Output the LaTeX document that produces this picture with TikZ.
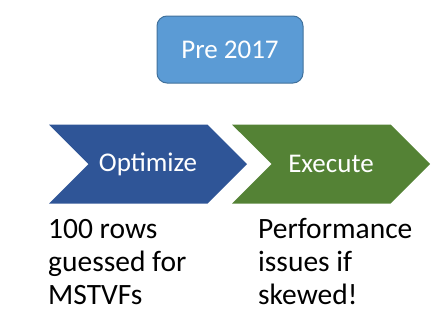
\documentclass[tikz,border=0pt]{standalone}
\usepackage{fontspec}
\setmainfont{Carlito}
\usetikzlibrary{shapes.symbols}

\definecolor{office_blue}{HTML}{5B9BD5}
\definecolor{office_edge}{HTML}{41719C}
\definecolor{dark_blue}{HTML}{2F5597}
\definecolor{dark_green}{HTML}{548235}

\begin{document}
\begin{tikzpicture}[
    x=1pt, y=-1pt,
    era/.style={rectangle, draw=office_edge, fill=office_blue, line width=1pt,
                minimum width=146pt, minimum height=67pt, rounded corners=10pt,
                text=white, font=\fontsize{27}{32}\selectfont},
    phase/.style={signal, signal from=west, signal to=east, signal pointer angle=90,
                  minimum width=198pt, minimum height=79pt, inner sep=0pt,
                  text=white, font=\fontsize{27}{32}\selectfont},
    note/.style={anchor=base west, align=left, inner sep=0pt,
                 font=\fontsize{29.5}{33}\selectfont}
]
    \useasboundingbox (0,0) rectangle (436,327);

    % Period
    \node[era] (pre) at (230, 49.5) {Pre 2017};

    % Phases
    \node[phase, fill=dark_blue]  (opt)  at (148, 164) {Optimize};
    \node[phase, fill=dark_green] (exec) at (331, 164) {Execute};

    % Notes under the phases (anchored on the last line)
    \node[note] (optnote)  at (48, 304)  {100 rows\\guessed for\\MSTVFs};
    \node[note] (execnote) at (258, 304) {Performance\\issues if\\skewed!};

\end{tikzpicture}
\end{document}
